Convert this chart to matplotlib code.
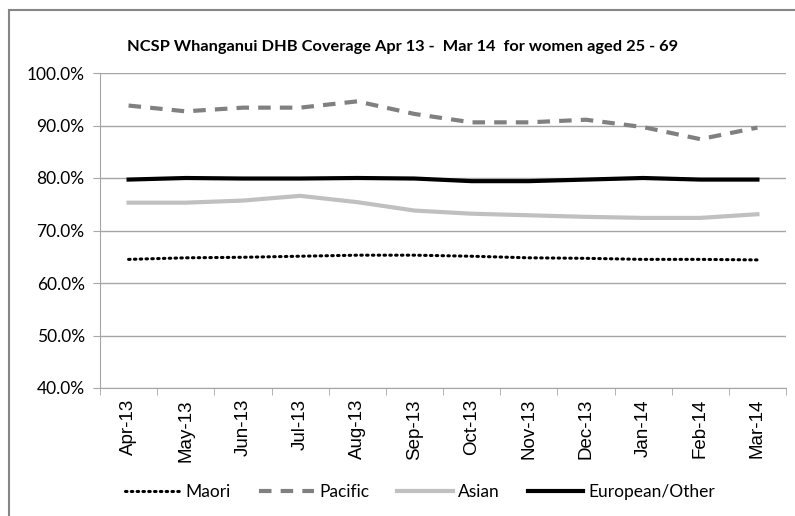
import matplotlib
matplotlib.use("Agg")
import matplotlib.pyplot as plt
from matplotlib.ticker import FuncFormatter, FixedLocator
from matplotlib.patches import Rectangle

months = ["Apr-13", "May-13", "Jun-13", "Jul-13", "Aug-13", "Sep-13",
          "Oct-13", "Nov-13", "Dec-13", "Jan-14", "Feb-14", "Mar-14"]
maori = [64.5, 64.8, 64.9, 65.1, 65.3, 65.3, 65.1, 64.8, 64.7, 64.5, 64.5, 64.4]
pacific = [93.8, 92.7, 93.4, 93.4, 94.6, 92.2, 90.6, 90.6, 91.1, 89.7, 87.4, 89.6]
asian = [75.3, 75.3, 75.7, 76.6, 75.4, 73.8, 73.2, 72.9, 72.6, 72.4, 72.4, 73.1]
european = [79.7, 80.0, 79.9, 79.9, 80.0, 79.9, 79.4, 79.4, 79.7, 80.0, 79.7, 79.7]

title = "NCSP Whanganui DHB Coverage Apr 13 -  Mar 14  for women aged 25 - 69"
uifont = "Lato"

fig = plt.figure(figsize=(7.95, 5.16), dpi=100)
ax = fig.add_axes([100/795, 1-388/516, 686/795, 315/516])

x = list(range(len(months)))
ax.plot(x, maori, color="black", lw=2.2, linestyle=(0, (0.5, 1.4)),
        dash_capstyle="round", label="Maori")
ax.plot(x, pacific, color="#808080", lw=3, linestyle=(0, (3, 2.2)), label="Pacific")
ax.plot(x, asian, color="#c0c0c0", lw=3, label="Asian")
ax.plot(x, european, color="black", lw=3, label="European/Other")

ax.set_ylim(40, 100)
ax.set_xlim(-0.5, len(months) - 0.5)
ax.set_yticks([40, 50, 60, 70, 80, 90, 100])
ax.yaxis.set_major_formatter(FuncFormatter(lambda v, p: f"{v:.1f}%"))
ax.grid(axis="y", color="#a6a6a6", lw=1)
ax.set_axisbelow(True)

ax.set_xticks(x)
ax.set_xticklabels(months, rotation=90, family="Liberation Sans", fontsize=13.5)
ax.tick_params(axis="x", which="major", length=0, pad=8)
ax.xaxis.set_minor_locator(FixedLocator([i - 0.5 for i in range(len(months) + 1)]))
ax.tick_params(axis="x", which="minor", length=5, color="#a6a6a6")
ax.tick_params(axis="y", length=5, color="#a6a6a6", labelsize=12.5, pad=6)
for lab in ax.get_yticklabels():
    lab.set_family(uifont)

for s in ["top", "right"]:
    ax.spines[s].set_visible(False)
ax.spines["left"].set_color("#a6a6a6")
ax.spines["bottom"].set_color("#a6a6a6")

fig.text(403/795, 1-47/516, title, ha="center", va="center",
         fontsize=11.8, fontweight="bold", family=uifont)

leg = fig.legend(loc="center", bbox_to_anchor=(420/795, 1-492/516), ncol=4,
                 frameon=False, prop={"family": uifont, "size": 12.5},
                 handlelength=3.2, columnspacing=1.6, handletextpad=0.3)

fig.add_artist(Rectangle((9/795, -0.01), 1.0, 1 - 10/516 + 0.01,
                         transform=fig.transFigure, fill=False,
                         edgecolor="#868686", lw=1.5))

fig.savefig("out.png", dpi=100)
